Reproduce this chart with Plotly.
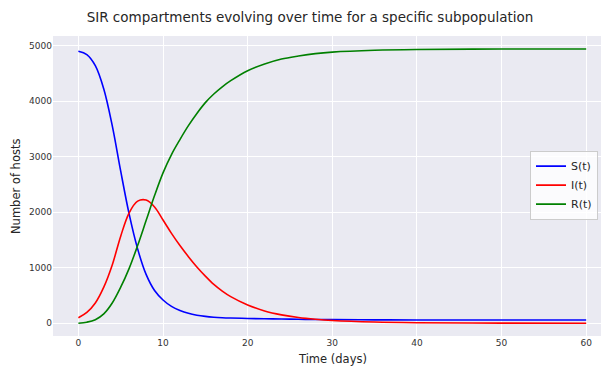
import plotly.graph_objects as go

# Time points (days)
t_days = [0, 1, 2, 3, 4, 5, 6, 7, 8, 9, 10, 11, 12, 13, 14, 15, 16, 17, 18,
          20, 22, 24, 26, 28, 30, 35, 40, 50, 60]

# Susceptible
s_vals = [4900, 4840, 4640, 4220, 3560, 2740, 1965, 1340, 880, 590, 420, 305, 232, 180, 146,
          124, 110, 101, 95, 87, 81, 77, 73, 69, 66, 62, 60, 60, 60]

# Infected
i_vals = [100, 195, 365, 650, 1050, 1570, 1990, 2200, 2220, 2095, 1860, 1620, 1400, 1200, 1015,
          850, 700, 580, 480, 330, 222, 152, 104, 72, 50, 22, 10, 3, 1]

# Recovered
r_vals = [0, 20, 65, 170, 365, 650, 990, 1400, 1850, 2300, 2710, 3040, 3310, 3560, 3780,
          3975, 4130, 4260, 4370, 4550, 4670, 4760, 4815, 4858, 4885, 4918, 4932, 4940, 4940]

x_ticks = [0, 10, 20, 30, 40, 50, 60]
y_ticks = [0, 1000, 2000, 3000, 4000, 5000]

fig = go.Figure()
for name, vals, col in [("S(t)", s_vals, "#0000ff"), ("I(t)", i_vals, "#ff0000"), ("R(t)", r_vals, "#008000")]:
    fig.add_trace(go.Scatter(x=t_days, y=vals, mode="lines", name=name,
                             line=dict(color=col, width=1.6, shape="spline", smoothing=1.0)))

W, H = 601, 367
L, R, T, B = 53, 0, 36, 31

fig.update_layout(
    width=W, height=H,
    margin=dict(l=L, r=R, t=T, b=B, autoexpand=False),
    paper_bgcolor="white",
    plot_bgcolor="#EAEAF2",
    font=dict(family="DejaVu Sans", color="#262626"),
    title=dict(text="SIR compartments evolving over time for a specific subpopulation",
               x=310 / W, xanchor="center", y=1 - 17 / H, yanchor="middle",
               font=dict(size=13.5, color="#262626")),
    xaxis=dict(range=[-3, 61.75], tickvals=x_ticks, ticktext=[str(v) for v in x_ticks],
               showgrid=True, gridcolor="white", gridwidth=1.2, zeroline=False,
               tickfont=dict(size=9, color="#333333"), ticks="", ticklen=0, automargin=False),
    yaxis=dict(range=[-229, 5175], tickvals=y_ticks, ticktext=[str(v) for v in y_ticks],
               showgrid=True, gridcolor="white", gridwidth=1.2, zeroline=False,
               tickfont=dict(size=9, color="#333333"), ticks="", ticklen=0, automargin=False),
    legend=dict(x=(598 - L) / (W - L - R), xanchor="right", y=0.503, yanchor="middle",
                bgcolor="rgba(255,255,255,0.8)", bordercolor="#cccccc", borderwidth=1,
                font=dict(size=11, color="#262626"), itemwidth=30, tracegroupgap=0),
    showlegend=True,
    annotations=[
        dict(text="Time (days)", xref="paper", yref="paper",
             x=(332 - L) / (W - L - R), y=-(359 - (H - B)) / (H - T - B),
             xanchor="center", yanchor="middle", showarrow=False,
             font=dict(size=11.5, color="#262626")),
        dict(text="Number of hosts", xref="paper", yref="paper",
             x=-(L - 16) / (W - L - R), y=(H - B - 187) / (H - T - B),
             xanchor="center", yanchor="middle", showarrow=False, textangle=-90,
             font=dict(size=11.5, color="#262626")),
    ],
)

fig.write_html("out.html", config={"displayModeBar": False},
               post_script="document.body.style.margin='0px';document.body.style.padding='0px';")
